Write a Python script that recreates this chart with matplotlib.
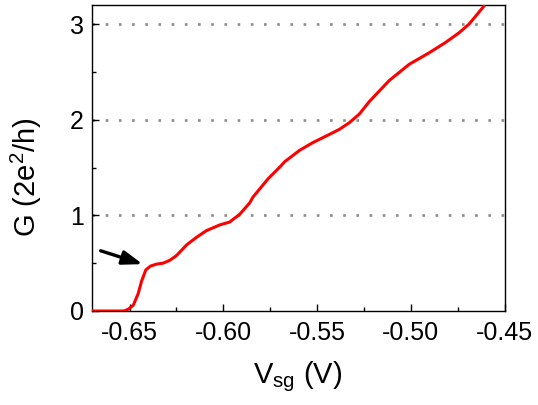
import matplotlib
matplotlib.use("Agg")
import matplotlib.pyplot as plt
from matplotlib.ticker import MultipleLocator

plt.rcParams['font.family'] = ['Liberation Sans', 'DejaVu Sans']

vsg = [-0.6700, -0.6600, -0.6530, -0.6507, -0.6480, -0.6454, -0.6436, -0.6413,
       -0.6388, -0.6356, -0.6321, -0.6285, -0.6249, -0.6196, -0.6143, -0.6090,
       -0.6019, -0.5966, -0.5913, -0.5859, -0.5842, -0.5762, -0.5691, -0.5673,
       -0.5593, -0.5523, -0.5451, -0.5380, -0.5327, -0.5274, -0.5221, -0.5115,
       -0.5008, -0.4902, -0.4813, -0.4742, -0.4689, -0.4609]
g = [0.0, 0.0, 0.0, 0.018, 0.06, 0.18, 0.31, 0.43,
     0.47, 0.49, 0.50, 0.53, 0.58, 0.69, 0.77, 0.84,
     0.90, 0.93, 1.01, 1.13, 1.19, 1.38, 1.52, 1.56,
     1.68, 1.76, 1.83, 1.90, 1.97, 2.06, 2.19, 2.41,
     2.58, 2.70, 2.81, 2.91, 3.00, 3.19]

plateaus = [1, 2, 3]
xticks = [-0.65, -0.60, -0.55, -0.50, -0.45]
xticklabels = ['-0.65', '-0.60', '-0.55', '-0.50', '-0.45']
yticks = [0, 1, 2, 3]

W, H = 538, 405
fig = plt.figure(figsize=(W / 100, H / 100), dpi=100)
ax = fig.add_axes([92 / W, 1 - 311 / H, (504.5 - 92) / W, (311 - 5) / H])

for p in plateaus:
    ax.axhline(p, color='#8c8c8c', linewidth=1.9, linestyle=(0, (1, 4)), zorder=1)

ax.plot(vsg, g, color='#ff0000', linewidth=2.2, zorder=3,
        solid_joinstyle='round', solid_capstyle='round')

ax.annotate('', xy=(-0.6430, 0.49), xytext=(-0.6654, 0.63),
            arrowprops=dict(arrowstyle='-|>,head_length=1.2,head_width=0.42',
                            color='black', linewidth=2.4, shrinkA=0, shrinkB=0))

ax.set_xlim(-0.67, -0.45)
ax.set_ylim(0, 3.2)
ax.set_xticks(xticks)
ax.set_xticklabels(xticklabels)
ax.set_yticks(yticks)
ax.xaxis.set_minor_locator(MultipleLocator(0.025))
ax.yaxis.set_minor_locator(MultipleLocator(0.5))
ax.tick_params(which='both', direction='in', top=False, right=False, labelsize=18)
ax.tick_params(axis='x', pad=7)
ax.tick_params(axis='y', pad=6)
ax.tick_params(which='major', length=5, width=1)
ax.tick_params(which='minor', length=3, width=1)
for s in ax.spines.values():
    s.set_linewidth(1.0)

fig.text(298 / W, 1 - 383 / H, r'V$_{\mathregular{sg}}$ (V)', fontsize=21,
         ha='center', va='baseline')
fig.text(36 / W, 1 - 177 / H, r'G (2e$^{\mathregular{2}}$/h)', fontsize=21,
         rotation=90, rotation_mode='anchor', ha='center', va='baseline')

fig.savefig('out.png', dpi=100)
